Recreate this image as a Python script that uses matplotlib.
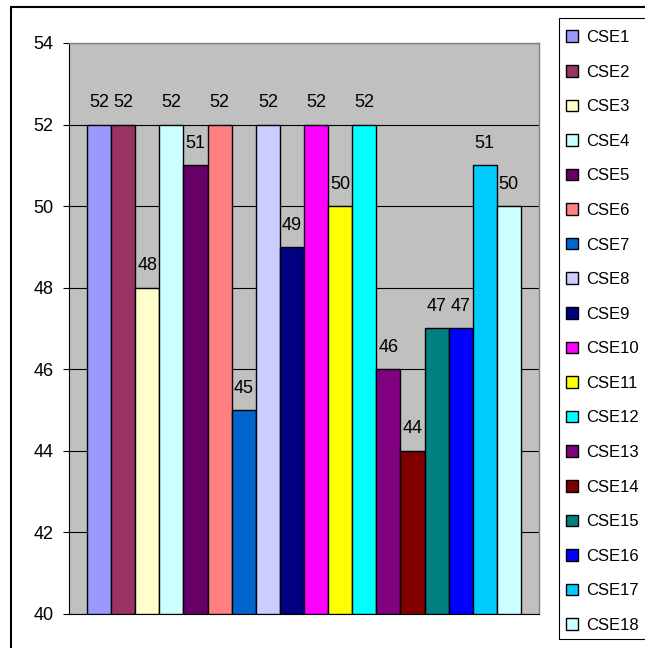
import matplotlib.pyplot as plt
from matplotlib.patches import Patch, Rectangle

plt.rcParams['font.family'] = ['Liberation Sans', 'DejaVu Sans']

series = ['CSE1', 'CSE2', 'CSE3', 'CSE4', 'CSE5', 'CSE6', 'CSE7', 'CSE8', 'CSE9',
          'CSE10', 'CSE11', 'CSE12', 'CSE13', 'CSE14', 'CSE15', 'CSE16', 'CSE17', 'CSE18']
values = [52, 52, 48, 52, 51, 52, 45, 52, 49, 52, 50, 52, 46, 44, 47, 47, 51, 50]
colors = ['#9999FF', '#993366', '#FFFFCC', '#CCFFFF', '#660066', '#FF8080',
          '#0066CC', '#CCCCFF', '#000080', '#FF00FF', '#FFFF00', '#00FFFF',
          '#800080', '#800000', '#008080', '#0000FF', '#00CCFF', '#CCFFFF']

fig = plt.figure(figsize=(6.45, 6.48), dpi=100)
ax = fig.add_axes([69/645, 1-614/648, 470/645, 571/648])
ax.set_facecolor('#C0C0C0')

x = list(range(len(values)))
bottom = 40
ax.bar(x, [v - bottom for v in values], bottom=bottom, width=1.0,
       color=colors, edgecolor='black', linewidth=1.0, zorder=3)

for xi, v in zip(x, values):
    ax.annotate(str(v), (xi, v), xytext=(0, 12.5), textcoords='offset points',
                ha='center', va='baseline', fontsize=13, zorder=4)

ax.set_xlim(-1.25, len(values) - 1 + 1.25)
ax.set_ylim(40, 54)
ax.set_yticks(range(40, 55, 2))
ax.yaxis.grid(True, color='black', linewidth=0.8, zorder=1)
ax.set_axisbelow(True)
ax.set_xticks([])
ax.tick_params(axis='y', direction='out', length=4, width=0.8, pad=7, labelsize=13)
for s in ['top', 'right']:
    ax.spines[s].set_color('#808080')
    ax.spines[s].set_linewidth(1.0)
for s in ['left', 'bottom']:
    ax.spines[s].set_color('black')
    ax.spines[s].set_linewidth(0.8)

# legend entries (frame drawn separately)
handles = [Patch(facecolor=c, edgecolor='black', linewidth=1.0) for c in colors]
leg = fig.legend(handles, series, loc='upper left',
                 bbox_to_anchor=(566/645, 1-30/648), bbox_transform=fig.transFigure,
                 fontsize=12, handlelength=0.69, handleheight=0.69,
                 handletextpad=0.54, labelspacing=1.175, borderpad=0,
                 borderaxespad=0, frameon=False)

# legend frame
fig.patches.append(Rectangle((559/645, 1-639/648), 0.2, (639-18)/648,
                             transform=fig.transFigure, fill=False,
                             edgecolor='black', linewidth=0.8))

# outer chart border
fig.patches.append(Rectangle((10.5/645, -0.1), 1.0, 1-6.7/648 + 0.1,
                             transform=fig.transFigure, fill=False,
                             edgecolor='black', linewidth=1.5))

fig.savefig('out.png', dpi=100)
